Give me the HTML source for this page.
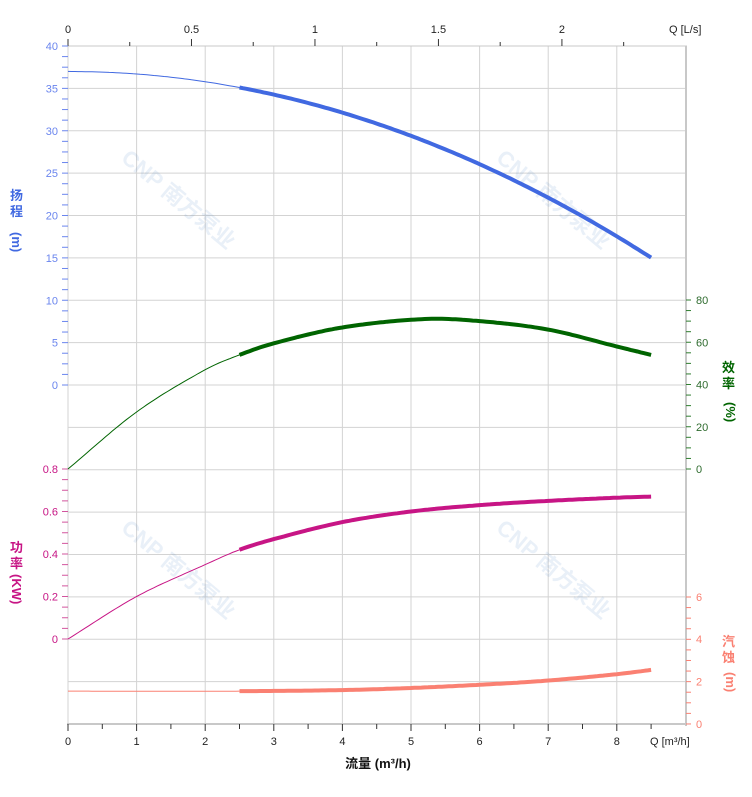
<!DOCTYPE html>
<html><head><meta charset="utf-8"><style>
body{margin:0;background:#fff}
svg{display:block;font-family:"Liberation Sans","Noto Sans CJK SC",sans-serif}
</style></head><body>
<svg id="s" width="752" height="797" xmlns="http://www.w3.org/2000/svg">
<g id="grid" stroke="#d3d3d3" stroke-width="1"></g>
<g opacity="0.12" fill="#4a7fc0" font-size="22" font-weight="bold">
<text transform="translate(120,160) rotate(40)">CNP 南方泵业</text>
<text transform="translate(495,160) rotate(40)">CNP 南方泵业</text>
<text transform="translate(120,530) rotate(40)">CNP 南方泵业</text>
<text transform="translate(495,530) rotate(40)">CNP 南方泵业</text>
</g>
<g id="axes"></g>
<g id="curves" fill="none"></g>
<g font-size="11">
<text x="669" y="33" fill="#222">Q [L/s]</text>
<text x="650" y="745" fill="#222">Q [m³/h]</text>
<text x="378" y="768" text-anchor="middle" font-size="13" font-weight="bold" fill="#111">流量 (m³/h)</text>
</g>
<g font-size="13" font-weight="bold">
<text x="10" y="200" fill="#4169e1">扬</text><text x="10" y="216" fill="#4169e1">程</text>
<text transform="translate(12,232) rotate(90)" fill="#4169e1">(m)</text>
<text x="722" y="372" fill="#006400">效</text><text x="722" y="388" fill="#006400">率</text>
<text transform="translate(726,402) rotate(90)" fill="#006400">(%)</text>
<text x="10" y="552" fill="#c71585">功</text><text x="10" y="568" fill="#c71585">率</text>
<text transform="translate(12,574) rotate(90)" fill="#c71585">(KW)</text>
<text x="722" y="646" fill="#fa8072">汽</text><text x="722" y="662" fill="#fa8072">蚀</text>
<text transform="translate(726,672) rotate(90)" fill="#fa8072">(m)</text>
</g>
</svg>
<script>
const NS="http://www.w3.org/2000/svg";
function el(p,t,a,txt){const e=document.createElementNS(NS,t);for(const k in a)e.setAttribute(k,a[k]);if(txt!==undefined)e.textContent=txt;document.getElementById(p).appendChild(e);return e;}
const X=q=>68+q*68.6;
// grid
for(let i=0;i<=8;i++)el("grid","line",{x1:X(i),x2:X(i),y1:46,y2:724});
for(let i=0;i<=16;i++){const y=46+i*42.375;el("grid","line",{x1:68,x2:686,y1:y,y2:y});}
el("axes","line",{x1:686,x2:686,y1:46,y2:726,stroke:"#c8c8c8","stroke-width":2});
el("axes","line",{x1:67,x2:687,y1:724,y2:724,stroke:"#c8c8c8","stroke-width":2});
el("axes","line",{x1:67,x2:687,y1:46,y2:46,stroke:"#c8c8c8","stroke-width":1});
// bottom ticks
for(let i=0;i<=17;i++){const x=X(i*0.5);el("axes","line",{x1:x,x2:x,y1:724,y2:i%2?729:731,stroke:"#333"});}
for(let i=0;i<=8;i++)el("axes","text",{x:X(i),y:745,"text-anchor":"middle","font-size":11,fill:"#222"},i);
// top ticks L/s
for(let i=0;i<=9;i++){const x=68+i*0.25*246.96;if(x>686)break;el("axes","line",{x1:x,x2:x,y1:46,y2:i%2?42:39,stroke:"#333"});}
["0","0.5","1","1.5","2"].forEach((t,i)=>el("axes","text",{x:68+i*0.5*246.96,y:33,"text-anchor":"middle","font-size":11,fill:"#222"},t));
// left head axis
for(let i=0;i<=32;i++){const y=46+i*10.594;if(y>386)break;el("axes","line",{x1:62,x2:68,y1:y,y2:y,stroke:"#6a85ee"});}
for(let v=40;v>=0;v-=5){const y=46+(40-v)*8.475;el("axes","text",{x:58,y:y+4,"text-anchor":"end","font-size":11,fill:"#6a85ee"},v);}
// power axis
for(let i=0;i<=16;i++){const y=469+i*10.625;el("axes","line",{x1:62,x2:68,y1:y,y2:y,stroke:"#d2559e"});}
[0.8,0.6,0.4,0.2,0].forEach(v=>{const y=639-v*212.5;el("axes","text",{x:58,y:y+4,"text-anchor":"end","font-size":11,fill:"#c71585"},v);});
// eff axis
for(let i=0;i<=16;i++){const y=300+i*10.5625;el("axes","line",{x1:686,x2:691,y1:y,y2:y,stroke:"#2e7d2e"});}
[80,60,40,20,0].forEach(v=>{const y=469-v*2.1125;el("axes","text",{x:696,y:y+4,"font-size":11,fill:"#2e6b2e"},v);});
// npsh axis
for(let i=0;i<=12;i++){const y=597+i*10.58;el("axes","line",{x1:686,x2:691,y1:y,y2:y,stroke:"#fa8072"});}
[6,4,2,0].forEach(v=>{const y=724-v*21.2;el("axes","text",{x:696,y:y+4,"font-size":11,fill:"#fa8072"},v);});
// curves
function spline(pts,q0,q1,fy){
 const ks=pts.map(p=>p[0]),n=pts.length;
 function f(q){let i=0;while(i<n-2&&q>pts[i+1][0])i++;
  const p0=pts[Math.max(i-1,0)],p1=pts[i],p2=pts[i+1],p3=pts[Math.min(i+2,n-1)];
  const t=(q-p1[0])/(p2[0]-p1[0]);
  const m1=(p2[1]-p0[1])/(p2[0]-p0[0])*(p2[0]-p1[0]),m2=(p3[1]-p1[1])/(p3[0]-p1[0])*(p2[0]-p1[0]);
  const t2=t*t,t3=t2*t;
  return (2*t3-3*t2+1)*p1[1]+(t3-2*t2+t)*m1+(-2*t3+3*t2)*p2[1]+(t3-t2)*m2;}
 let d="";for(let q=q0;q<=q1+1e-9;q+=0.05){d+=(d?"L":"M")+X(q).toFixed(1)+","+fy(f(q)).toFixed(1);}return d;}
function curve(pts,fy,c,w){el("curves","path",{d:spline(pts,0,2.5,fy),stroke:c,"stroke-width":w[0]});el("curves","path",{d:spline(pts,2.5,8.5,fy),stroke:c,"stroke-width":w[1]});}
const H=[];for(let q=0;q<=8.5001;q+=0.5)H.push([q,37-0.304*q*q]);
curve(H,v=>46+(40-v)*8.475,"#4169e1",[1,4]);
curve([[0,0],[1,27],[2,47],[2.5,54],[3,59.5],[4,67],[5.2,71],[6,70],[7,66],[8,58],[8.5,54]],v=>469-v*2.1125,"#006400",[1,4]);
curve([[0,0],[1,0.2],[2,0.35],[2.5,0.42],[3,0.47],[4,0.55],[5,0.6],[6,0.63],[7,0.65],[8,0.665],[8.5,0.67]],v=>639-v*212.5,"#c71585",[1,4]);
curve([[0,1.55],[2.5,1.55],[4,1.6],[5,1.7],[6,1.85],[7,2.05],[8,2.35],[8.5,2.55]],v=>724-v*21.2,"#fa8072",[1,4]);
</script>
</body></html>
